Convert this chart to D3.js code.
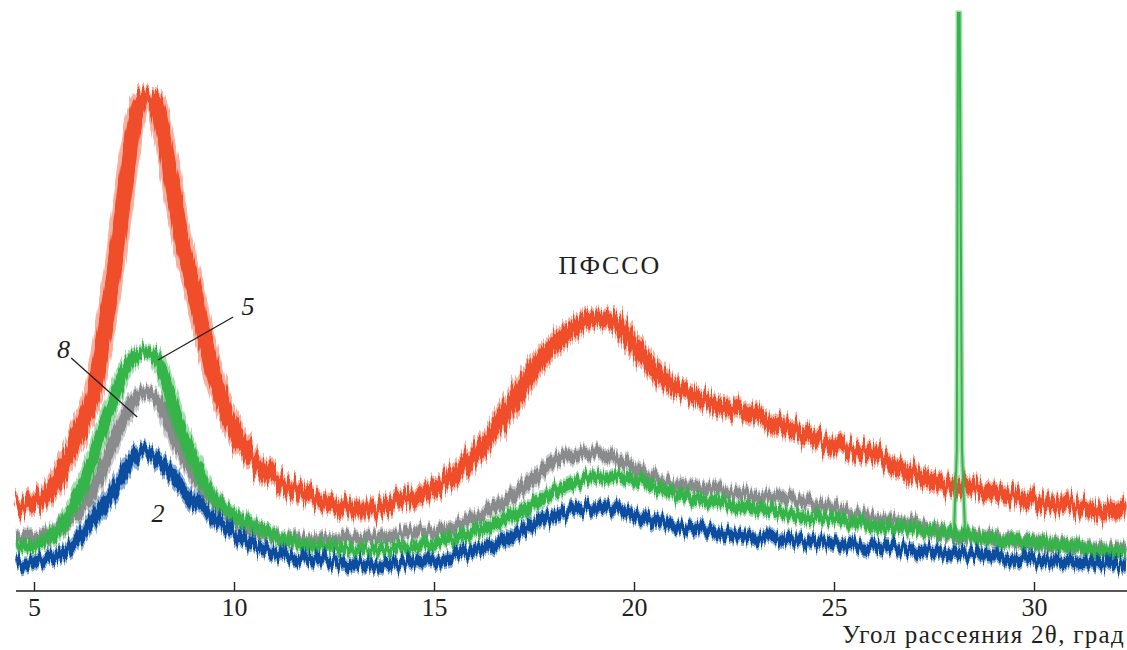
<!DOCTYPE html>
<html>
<head>
<meta charset="utf-8">
<script src="https://cdn.jsdelivr.net/npm/d3@7"></script>
<style>
  body { margin: 0; background: #fff; }
  svg { display: block; }
  .axis text { font-family: "Liberation Serif", "Times New Roman", serif; font-size: 26px; fill: #231f20; }
  .axis path, .axis line { stroke: #231f20; stroke-width: 1.4; }
  .lbl { font-family: "Liberation Serif", "Times New Roman", serif; fill: #231f20; }
</style>
</head>
<body>
<div id="chart"></div>
<script>
// scattering angle 2theta, deg
var theta = [4.55, 5, 5.5, 6, 6.25, 6.5, 6.75, 7, 7.25, 7.5, 7.75, 8, 8.25, 8.5, 8.75, 9,
  9.25, 9.5, 10, 10.5, 11, 11.5, 12, 12.5, 13, 13.5, 14, 14.5, 15, 15.5, 16, 16.5,
  17, 17.5, 18, 18.5, 19, 19.5, 20, 20.5, 21, 21.5, 22, 23, 24, 25, 26, 27, 28, 29,
  30, 31, 32.3];

// intensity, a.u.
var redI = [81, 88, 106, 146, 169, 199, 256, 321, 396, 466, 494, 491, 454, 396, 343, 301,
  256, 216, 161, 131, 113, 101, 93, 88, 84, 84, 89, 94, 103, 116, 136, 159,
  191, 223, 246, 263, 273, 269, 246, 221, 203, 195, 188, 176, 161, 146, 136, 118, 106, 99,
  91, 84, 78];
var greenI = [44, 46, 56, 86, 108, 136, 166, 191, 219, 234, 239, 236, 216, 184, 154, 131,
  108, 94, 78, 64, 54, 48, 45, 43, 41, 41, 43, 45, 48, 52, 58, 66,
  76, 89, 100, 109, 114, 114, 111, 104, 97, 92, 89, 83, 77, 71, 65, 62, 58, 52,
  48, 44, 39];
var grayI = [53, 54, 59, 76, 86, 104, 126, 151, 173, 191, 198, 194, 181, 154, 134, 118,
  101, 89, 71, 61, 55, 52, 51, 51, 52, 54, 56, 58, 59, 64, 73, 82,
  96, 113, 129, 137, 139, 133, 123, 113, 107, 104, 101, 95, 91, 83, 73, 66, 56, 52,
  48, 44, 40];
var blueI = [26, 29, 34, 48, 59, 71, 86, 101, 118, 133, 141, 136, 126, 114, 101, 89,
  81, 73, 58, 46, 39, 34, 31, 29, 27, 26, 27, 29, 31, 35, 41, 46,
  56, 66, 75, 81, 84, 82, 77, 70, 65, 62, 59, 54, 51, 48, 44, 41, 38, 35,
  31, 29, 26];

// sharp reflection on the green curve
var spikeTheta = [28.0, 28.07, 28.1, 28.14, 28.2, 28.28];
var spikeI = [58, 141, 578, 578, 141, 56];

var xTicks = [5, 10, 15, 20, 25, 30];
var xTitle = "Угол рассеяния 2θ, град";

// curve labels: text, label position, leader line from/to (data units)
var labels = [
  {t: "8", x: 5.74, y: 233, lx1: 5.93, ly1: 233, lx2: 7.58, ly2: 174},
  {t: "5", x: 10.35, y: 276, lx1: 9.98, ly1: 274, lx2: 8.1, ly2: 231},
  {t: "2", x: 8.1, y: 69}
];

var margin = {top: 0, right: 0, bottom: 59, left: 0},
    width = 1127 - margin.left - margin.right,
    height = 650 - margin.top - margin.bottom;

var x = d3.scaleLinear()
    .domain([4.55, 32.325])
    .range([16, 1127]);
var y = d3.scaleLinear()
    .domain([0, height])
    .range([height, 0]);

var root = d3.select("#chart").append("svg")
    .attr("width", width + margin.left + margin.right)
    .attr("height", height + margin.top + margin.bottom);

// vertical jitter so the thick bands read like noisy counts
var defs = root.append("defs");
function noiseFilter(id, scale, seed) {
  var f = defs.append("filter")
      .attr("id", id)
      .attr("filterUnits", "userSpaceOnUse")
      .attr("x", 0).attr("y", 0)
      .attr("width", 1127).attr("height", 650);
  f.append("feTurbulence")
      .attr("type", "fractalNoise")
      .attr("baseFrequency", "0.45 0.003")
      .attr("numOctaves", 2)
      .attr("seed", seed)
      .attr("result", "t");
  f.append("feColorMatrix")
      .attr("in", "t")
      .attr("type", "matrix")
      .attr("values", "0 0 0 0 0.5  1 0 0 0 0  0 0 0 0 0  0 0 0 0 1")
      .attr("result", "m");
  f.append("feDisplacementMap")
      .attr("in", "SourceGraphic")
      .attr("in2", "m")
      .attr("scale", scale)
      .attr("xChannelSelector", "R")
      .attr("yChannelSelector", "G");
}
noiseFilter("noiseRed", 30, 2);
noiseFilter("noiseGray", 20, 5);
noiseFilter("noiseGreen", 20, 8);
noiseFilter("noiseBlue", 20, 11);

var svg = root.append("g")
    .attr("transform", "translate(" + margin.left + "," + margin.top + ")");

var line = d3.line()
    .x(function(d) { return x(d[0]); })
    .y(function(d) { return y(d[1]); })
    .curve(d3.curveMonotoneX);

function zip(a, b) { return a.map(function(v, i) { return [v, b[i]]; }); }

var series = [
  {name: "gray",  data: zip(theta, grayI),  color: "#8a8b8d", outer: 16, inner: 11, f: "noiseGray"},
  {name: "green", data: zip(theta, greenI), color: "#34b44a", outer: 16, inner: 11, f: "noiseGreen"},
  {name: "blue",  data: zip(theta, blueI),  color: "#0d4ea0", outer: 16, inner: 11, f: "noiseBlue"},
  {name: "red",   data: zip(theta, redI),   color: "#f04e2c", outer: 21, inner: 15, f: "noiseRed"}
];

series.forEach(function(s) {
  var g = svg.append("g").attr("filter", "url(#" + s.f + ")");
  g.append("path")
      .datum(s.data)
      .attr("fill", "none")
      .attr("stroke", s.color)
      .attr("stroke-opacity", 0.45)
      .attr("stroke-width", s.outer)
      .attr("stroke-linejoin", "round")
      .attr("d", line);
  g.append("path")
      .datum(s.data)
      .attr("fill", "none")
      .attr("stroke", s.color)
      .attr("stroke-width", s.inner)
      .attr("stroke-linejoin", "round")
      .attr("d", line);
});

var spikeLine = d3.line()
    .x(function(d) { return x(d[0]); })
    .y(function(d) { return y(d[1]); });
svg.append("path")
    .datum(zip(spikeTheta, spikeI))
    .attr("fill", "none")
    .attr("stroke", "#34b44a")
    .attr("stroke-opacity", 0.45)
    .attr("stroke-width", 5)
    .attr("d", spikeLine);
svg.append("path")
    .datum(zip(spikeTheta, spikeI))
    .attr("fill", "none")
    .attr("stroke", "#34b44a")
    .attr("stroke-width", 2)
    .attr("d", spikeLine);

// x axis, ticks pointing up
var xAxis = d3.axisBottom(x)
    .tickValues(xTicks)
    .tickSizeInner(-9)
    .tickSizeOuter(0);

var gx = svg.append("g")
    .attr("class", "axis")
    .attr("transform", "translate(0," + height + ")")
    .call(xAxis);
gx.select(".domain").attr("d", "M16,0H1127");
gx.selectAll("text").attr("y", 25).attr("dy", 0);

svg.append("text")
    .attr("class", "lbl")
    .attr("x", 1125)
    .attr("y", height + 52)
    .attr("text-anchor", "end")
    .style("font-size", "25px")
    .style("letter-spacing", "1.3px")
    .text(xTitle);

svg.append("text")
    .attr("class", "lbl")
    .attr("x", x(19.4))
    .attr("y", y(317))
    .attr("text-anchor", "middle")
    .style("font-size", "26px")
    .style("letter-spacing", "2px")
    .text("ПФССО");

labels.forEach(function(l) {
  if (l.lx1 !== undefined) {
    svg.append("line")
        .attr("x1", x(l.lx1)).attr("y1", y(l.ly1))
        .attr("x2", x(l.lx2)).attr("y2", y(l.ly2))
        .attr("stroke", "#231f20")
        .attr("stroke-width", 1.3);
  }
  svg.append("text")
      .attr("class", "lbl")
      .attr("x", x(l.x))
      .attr("y", y(l.y))
      .attr("text-anchor", "middle")
      .style("font-size", "26px")
      .style("font-style", "italic")
      .text(l.t);
});
</script>
</body>
</html>
